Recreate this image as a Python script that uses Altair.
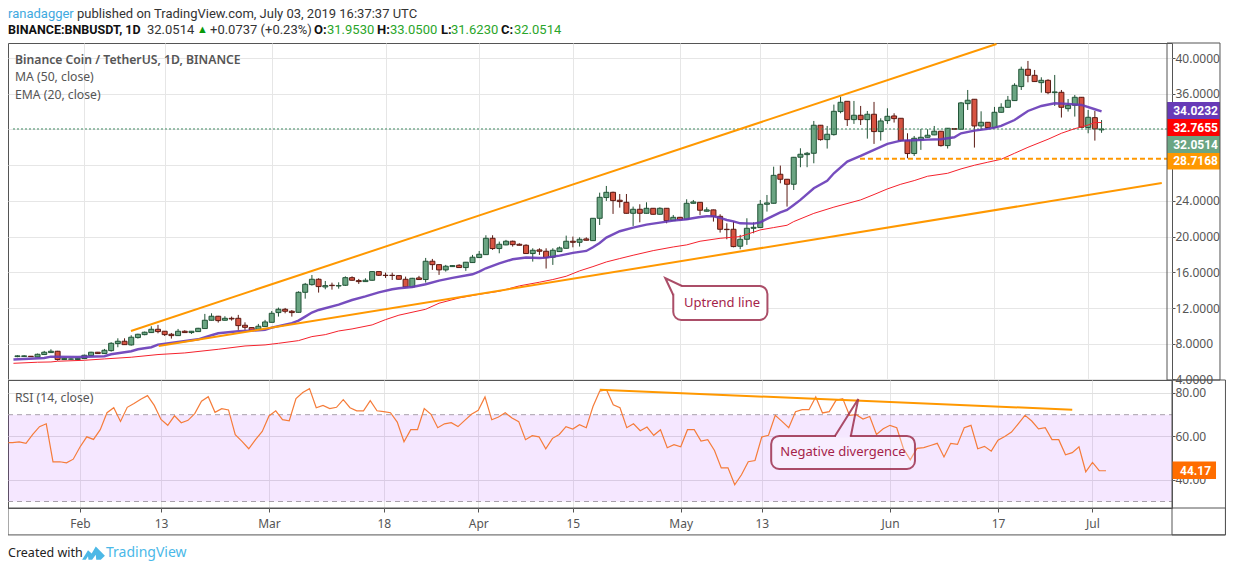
import altair as alt
import pandas as pd

# Daily candles, first session 2019-01-22
opens = [6.56,6.58,6.60,6.52,6.79,7.01,7.16,6.23,6.27,6.23,
6.34,6.67,7.05,6.90,7.23,8.02,8.28,7.87,8.69,9.02,9.25,9.62,9.40,9.06,8.91,9.40,9.25,9.36,9.70,10.63,
11.08,10.63,10.85,10.85,10.07,9.81,9.62,9.92,10.40,11.49,11.86,11.64,11.52,13.76,14.62,15.22,14.36,14.55,14.47,14.55,
15.40,15.07,14.96,15.11,16.08,15.67,15.67,15.63,15.22,14.36,15.37,15.19,17.24,16.86,16.27,16.64,16.79,16.53,17.09,17.65,
17.98,19.81,18.66,19.07,19.48,19.14,19.03,18.10,18.51,18.36,17.69,18.32,18.69,19.48,19.36,19.74,19.55,22.05,24.37,24.96,
24.07,23.84,22.61,23.06,22.61,23.17,22.50,23.17,21.79,22.16,21.94,23.73,23.84,22.84,22.99,22.27,20.82,20.82,18.92,19.70,
20.93,21.01,23.62,23.73,26.98,26.42,25.86,28.89,29.18,29.33,32.47,30.86,31.42,34.00,35.15,33.10,33.59,33.10,33.70,31.76,
32.99,33.51,33.25,30.75,29.30,30.86,31.12,31.39,31.80,30.19,32.09,32.02,34.89,35.38,32.39,32.80,32.21,33.92,34.48,35.23,
36.80,38.74,38.06,37.24,37.50,36.12,36.16,34.33,34.71,35.60,32.21,33.32,31.953]
highs = [6.71,6.72,6.62,6.90,7.20,7.38,7.20,6.40,6.36,6.40,
6.78,7.10,7.08,7.42,8.17,8.61,8.61,8.95,9.12,9.36,9.96,10.11,9.42,9.21,9.66,9.51,9.43,9.78,11.34,11.41,
11.12,11.08,11.04,11.23,10.40,9.84,10.22,10.67,11.67,12.05,12.01,11.78,13.87,14.81,15.70,15.33,15.03,14.84,14.88,15.55,
15.55,15.26,15.33,16.12,16.10,15.96,15.96,15.70,15.52,15.38,15.60,17.61,17.50,16.90,16.83,16.78,16.90,17.16,17.95,18.39,
20.15,20.15,19.44,19.63,19.55,19.25,19.14,18.69,18.69,18.69,18.69,18.88,20.11,20.00,19.92,19.92,22.08,24.92,25.67,25.03,
24.77,24.77,23.36,23.62,23.84,23.20,23.28,23.20,22.42,22.20,24.18,24.10,23.86,23.28,23.02,22.50,21.49,21.68,20.19,22.05,
21.60,24.10,24.66,27.83,27.95,26.45,28.92,29.89,29.48,32.95,32.50,32.39,34.78,35.68,35.18,35.19,34.63,34.07,35.08,33.25,
34.37,33.81,33.28,31.57,31.27,32.06,32.02,32.39,31.83,32.16,32.13,35.08,36.42,35.40,34.03,32.83,34.52,34.93,35.75,37.17,
39.03,39.67,38.66,37.84,37.62,38.10,36.42,35.41,35.86,35.63,34.18,34.07,33.05]
lows = [6.49,6.52,6.54,6.50,6.75,7.00,6.11,6.20,6.22,6.20,
6.30,6.62,6.88,6.86,7.12,7.61,7.87,7.79,8.58,8.95,9.22,9.17,8.87,8.58,8.88,9.22,9.10,9.32,9.68,10.60,
10.37,10.60,10.59,9.55,9.55,9.44,9.58,9.90,10.38,11.04,11.41,11.04,11.49,13.05,14.51,13.73,14.10,14.06,14.17,14.47,
15.07,14.70,14.92,15.07,15.59,15.37,15.14,15.18,14.33,14.30,15.15,14.85,16.27,15.71,16.08,16.62,16.50,16.16,17.05,17.62,
17.95,18.51,18.13,19.03,18.88,19.00,18.06,17.20,17.95,16.42,16.83,18.28,18.65,18.80,18.88,19.55,19.52,21.30,23.99,22.54,
23.24,22.58,21.19,21.60,22.58,22.46,22.46,21.49,21.75,21.79,21.90,23.69,22.42,22.80,21.68,20.45,19.70,18.80,18.58,19.07,
20.37,21.00,22.80,23.70,25.97,23.36,25.22,27.77,27.77,28.21,30.75,29.86,31.31,33.81,32.39,32.62,32.50,30.97,30.38,30.75,
32.62,32.77,30.64,28.77,29.03,29.71,31.08,31.35,30.08,29.86,31.98,31.98,34.18,29.97,31.94,32.18,32.18,33.88,34.44,35.19,
36.42,37.28,37.32,36.12,35.94,34.63,33.33,34.00,33.44,32.20,31.57,30.75,31.623]
closes = [6.64,6.64,6.56,6.82,7.05,7.16,6.23,6.37,6.30,6.37,
6.71,7.05,6.90,7.27,8.05,8.28,7.90,8.73,9.06,9.29,9.62,9.36,9.02,8.91,9.40,9.25,9.40,9.73,10.63,11.08,
10.59,10.85,10.78,10.03,9.84,9.47,9.96,10.44,11.41,11.86,11.64,11.49,13.76,14.66,15.22,14.40,14.51,14.51,14.51,15.40,
15.11,14.96,15.11,16.08,15.67,15.64,15.64,15.22,14.36,15.33,15.19,17.24,16.86,16.27,16.68,16.75,16.53,17.13,17.69,18.02,
19.81,18.66,19.14,19.48,19.10,19.03,18.10,18.47,18.36,17.65,18.47,18.73,19.48,19.36,19.70,19.59,22.05,24.40,24.96,24.03,
23.92,22.61,23.06,22.61,23.17,22.50,23.17,21.79,22.16,21.90,23.73,23.88,22.95,22.99,22.27,20.82,20.78,18.88,19.70,20.93,
21.04,23.62,23.77,26.86,26.42,25.86,28.88,29.22,29.33,32.47,30.86,31.46,34.03,35.04,33.10,33.59,33.10,33.70,31.76,32.95,
33.47,33.21,30.75,29.30,31.01,31.12,31.35,31.80,30.19,32.13,32.02,34.97,35.27,32.39,32.80,32.21,33.92,34.48,35.27,36.94,
38.74,38.06,37.36,37.50,36.12,36.20,34.48,34.71,35.60,32.24,33.36,32.06,32.0514]

# Moving averages, read at the days listed (offset from 1 Feb)
ema_days = [-10.6,-6,-5,-1,3,4,7,8,10,11,14,17,19,20,23,26,27,28,31,32,33,34,35,38,40,42,44,46,47,49,51,53,55,58,59,60,62,64,66,68,69,71,73,75,76,77,78,80,82,84,86,88,90,92,93,94,95,96,97,98,100,101,102,104,105,106,107,109,111,112,114,116,118,120,122,124,126,128,130,131,133,135,136,137,139,141,143,145,147,149,151,152]
ema_vals = [6.23,6.41,6.56,6.52,6.60,6.82,7.16,7.38,7.61,7.90,8.20,8.50,8.95,9.17,9.40,9.51,9.55,9.81,10.30,10.59,11.04,11.49,11.78,12.38,12.90,13.31,13.76,14.10,14.21,14.36,14.66,15.07,15.37,15.78,16.08,16.45,17.01,17.46,17.65,17.61,17.65,17.87,18.17,18.39,18.80,19.29,19.89,20.60,21.01,21.34,21.57,21.79,21.94,22.20,22.27,22.27,22.09,21.86,21.71,21.49,21.45,21.60,21.98,22.72,22.98,23.54,24.11,25.41,26.24,27.09,28.40,29.03,29.71,30.38,30.75,30.79,30.86,30.90,31.12,31.57,31.87,32.06,32.21,32.39,33.06,34.07,34.63,34.93,34.86,34.74,34.26,34.02]
ma_days = [-10.6,-7,-5,-4,0,3,7,11,15,20,24,27,29,32,34,36,38,40,43,45,47,51,53,56,59,62,65,68,70,72,74,76,78,80,82,85,88,90,92,95,98,101,103,105,106,109,112,116,118,120,122,124,126,129,131,133,135,137,139,141,144,146,148,149,150,151,152]
ma_vals = [5.81,5.93,5.96,6.04,6.15,6.30,6.49,6.79,6.97,7.38,7.75,7.87,8.05,8.35,8.80,9.02,9.43,9.66,10.11,10.70,11.20,11.86,12.54,13.13,13.54,13.88,14.48,14.89,15.19,15.56,16.16,16.64,17.16,17.54,17.91,18.43,18.84,19.07,19.48,19.81,20.00,20.75,21.01,21.27,21.68,22.60,23.30,24.11,24.71,25.34,25.86,26.27,26.76,27.09,27.58,27.99,28.33,28.66,29.33,30.00,30.90,31.57,32.09,32.28,32.50,32.77,32.77]

# RSI (14, close), one value per day from the left edge
rsi_vals = [57.1,57.1,57.5,56.8,60.9,64.5,65.8,48.3,48.3,47.8,49.5,
55.1,59.8,58.6,63.1,70.9,73.2,66.9,73.4,75.2,77.1,78.8,74.3,67.8,65.1,69.5,66.3,67.4,70.5,76.2,78.3,
71.1,72.8,72.2,60.8,57.7,54.3,58.5,62.3,69.4,71.8,67.7,67.2,77.4,80.2,82.0,73.2,74.3,72.8,73.4,76.9,
73.2,71.8,71.8,76.5,71.8,71.4,70.9,66.6,57.5,63.1,63.1,72.8,70.2,64.0,65.8,66.3,64.5,67.4,70.2,72.0,
78.2,67.7,68.9,70.9,68.5,66.8,58.5,60.3,59.8,54.3,59.1,60.9,64.5,63.4,65.4,64.0,73.8,80.9,81.5,74.6,
73.2,64.0,65.8,62.6,64.3,60.5,63.1,54.8,56.2,55.2,63.1,63.1,57.8,58.5,53.5,45.5,45.5,37.7,42.3,48.3,
48.9,59.7,60.5,69.7,66.9,64.0,71.4,72.3,72.3,78.2,70.8,71.4,76.6,77.4,69.7,70.0,68.0,69.2,60.9,63.5,
65.1,64.0,54.3,49.2,54.5,54.8,55.8,56.8,50.5,56.8,56.3,64.0,65.1,54.3,55.4,53.2,58.2,60.0,62.0,65.8,
69.7,67.1,63.5,64.0,58.5,58.5,51.5,52.5,55.2,43.7,48.0,44.2,44.17]

price_ticks = [4,8,12,16,20,24,28,32,36,40]
rsi_ticks = [40,60,80]
tick_days = [0,12,28,45,59,73,89,101,120,136,150]
tag_labels = ["34.0232","32.7655","32.0514","28.7168"]
tag_edges = [35.07,33.17,31.26,29.36,27.51]
tag_colors = ["#673ab7","#ff0000","#6ba583","#ff9800"]

FONT = "Noto Sans"
HEAD = "Roboto"
GREY = "#555555"
FRAME = "#555555"
base = pd.Timestamp("2019-02-01")

def dt(d):
    return (base + pd.Timedelta(days=float(d))).strftime("%Y-%m-%dT%H:%M:%SZ")

x_left, x_right, x_outer = -10.667, 161.78, 169.70
p_top, p_bot = 41.68, 3.94
r_top, r_bot, r_outer = 85.99, 27.0, 14.6
W, H1, H2 = 1164, 337, 128
xs = alt.Scale(type="utc", domain=[dt(x_left), dt(x_right)])
ys = alt.Scale(domain=[p_bot, p_top])
yr = alt.Scale(domain=[r_bot, r_top])
axis_y_top = alt.Axis(orient="right", values=price_ticks, format=".4f", grid=True, gridColor="#e6e6e6",
                      domain=False, title=None, tickColor=GREY, tickSize=3, labelColor=GREY, labelFont=FONT,
                      labelFontSize=12, labelPadding=0, labelOverlap=False, labelFlush=False, labelBound=False,
                      labelExpr="datum.value == 28 || datum.value == 32 ? '' : datum.label")
axis_y_bot = alt.Axis(orient="right", values=rsi_ticks, format=".2f", grid=True, gridColor="#e0e0e0", domain=False,
                      title=None, tickColor=GREY, tickSize=3, labelColor=GREY, labelFont=FONT, labelFontSize=12,
                      labelPadding=0, labelOverlap=False)
X = alt.X("t:T", scale=xs, title=None)
X2 = alt.X2("t2:T")
Y = alt.Y("v:Q", scale=ys, axis=axis_y_top)
R = alt.Y("v:Q", scale=yr, axis=axis_y_bot)

def series(days, vals):
    return pd.DataFrame({"t": [dt(d) for d in days], "v": vals})

def line(days, vals, yenc, **kw):
    return alt.Chart(series(days, vals)).mark_line(**kw).encode(x=X, y=yenc, order=alt.Order("t:T"))

def text(s, x, y, **kw):
    kw.setdefault("align", "left")
    kw.setdefault("baseline", "middle")
    kw.setdefault("font", FONT)
    return alt.Chart(pd.DataFrame({"s": [s]})).mark_text(**kw).encode(
        x=alt.value(x), y=alt.value(y), text="s:N")

def seg(d1, d2, v1, v2, yenc, color=FRAME, **kw):
    df = pd.DataFrame({"t": [dt(d1)], "t2": [dt(d2)], "v": [v1], "v2": [v2]})
    kw.setdefault("strokeWidth", 1)
    c = alt.Chart(df).mark_rule(color=color, **kw)
    enc = {"x": X, "y": yenc}
    if d1 != d2:
        enc["x2"] = X2
    if v1 != v2:
        enc["y2"] = alt.Y2("v2:Q")
    return c.encode(**enc)

BORDER = "#9c2f4d"

def pointer(tip, b1, b2, yenc):
    p = pd.DataFrame({"i": [0, 1, 2], "t": [dt(b1[0]), dt(tip[0]), dt(b2[0])], "v": [b1[1], tip[1], b2[1]]})
    return alt.Chart(p).mark_line(color=BORDER, strokeWidth=2, opacity=0.85).encode(x=X, y=yenc, order="i:Q")

def box(b, yenc, **kw):
    d1, d2, v1, v2 = b
    df = pd.DataFrame({"t": [dt(d1)], "t2": [dt(d2)], "v": [v1], "v2": [v2]})
    return alt.Chart(df).mark_rect(**kw).encode(x=X, x2=X2, y=yenc, y2="v2:Q")

# ---------------- price pane ----------------
days = list(range(-10, 153))
candles = pd.DataFrame({
    "t": [dt(d) for d in days], "o": opens, "h": highs, "l": lows, "c": closes,
    "dir": ["up" if c >= o else "down" for o, c in zip(opens, closes)],
})
body_stroke = alt.Scale(domain=["up", "down"], range=["#225437", "#5b1a13"])
body_fill = alt.Scale(domain=["up", "down"], range=["#6ba583", "#d75442"])

axis_x_top = alt.Axis(values=[dt(d) for d in tick_days], grid=True, gridColor="#e6e6e6", labels=False,
                      ticks=False, domain=False, title=None)
wicks = alt.Chart(candles).mark_rule(strokeWidth=1).encode(
    x=alt.X("t:T", scale=xs, axis=axis_x_top),
    y=alt.Y("l:Q", scale=ys, axis=axis_y_top),
    y2="h:Q",
    color=alt.Color("dir:N", scale=body_stroke, legend=None),
)
bodies = alt.Chart(candles).mark_bar(size=5, strokeWidth=1).encode(
    x=X, y=alt.Y("o:Q", scale=ys, axis=axis_y_top), y2="c:Q",
    fill=alt.Fill("dir:N", scale=body_fill, legend=None),
    stroke=alt.Stroke("dir:N", scale=body_stroke, legend=None),
)
last_line = seg(x_left, x_right, 32.0514, 32.0514, Y, color="#3f8a63", strokeDash=[2, 2])
ema = line(ema_days, ema_vals, Y, color="#673ab7", strokeWidth=2.4, opacity=0.9)
ma = line(ma_days, ma_vals, Y, color="#f5222d", strokeWidth=1)
upper = line([6.96, 136.3], [9.43, 41.57], Y, color="#ff9800", strokeWidth=2)
lower = line([11.1, 161], [7.75, 26.0], Y, color="#ff9800", strokeWidth=2)
support = seg(115.9, x_right, 28.7168, 28.7168, Y, color="#ff9800", strokeWidth=2, strokeDash=[5, 3])

tags_df = pd.DataFrame({
    "t": [dt(x_right)] * 4, "t2": [dt(x_outer)] * 4,
    "v": tag_edges[:-1], "v2": tag_edges[1:], "col": tag_colors,
    "lab": tag_labels, "mid": [(a + b) / 2 for a, b in zip(tag_edges[:-1], tag_edges[1:])],
    "tt": [dt(162.7)] * 4,
})
tag_rects = alt.Chart(tags_df).mark_rect().encode(
    x=X, x2=X2, y=Y, y2="v2:Q", color=alt.Color("col:N", scale=None))
tag_text = alt.Chart(tags_df).mark_text(align="left", color="white", fontWeight="bold", font=HEAD, fontSize=12).encode(
    x=alt.X("tt:T", scale=xs, title=None), y=alt.Y("mid:Q", scale=ys, axis=axis_y_top), text="lab:N")

ox, oy = 8, 43
def T(s, x, y, **kw):
    kw.setdefault("font", HEAD)
    kw.setdefault("fontSize", 13)
    return text(s, x - ox, y - oy, **kw)

header = [
    T("ranadagger", 8, 14, color="#3fa9e0"),
    T("published on TradingView.com, July 03, 2019 16:37:37 UTC", 77, 14, color="#333333"),
    T("BINANCE:BNBUSDT, 1D", 8, 30, color="#111111", fontWeight="bold", fontSize=12.5),
    T("32.0514", 147, 30, color="#333333"),
    T("\u25B2", 197, 30, color="#0a9a0a", fontSize=11),
    T("+0.0737 (+0.23%)", 210, 30, color="#333333"),
    T("O:", 314, 30, color="#111111", fontWeight="bold"),
    T("31.9530", 327, 30, color="#2aa52a"),
    T("H:", 377, 30, color="#111111", fontWeight="bold"),
    T("33.0500", 390, 30, color="#2aa52a"),
    T("L:", 441, 30, color="#111111", fontWeight="bold"),
    T("31.6230", 451, 30, color="#2aa52a"),
    T("C:", 501, 30, color="#111111", fontWeight="bold"),
    T("32.0514", 514, 30, color="#2aa52a"),
    T("Binance Coin / TetherUS, 1D, BINANCE", 15, 60, color=GREY, font=FONT, fontSize=12.2, fontWeight=600),
    T("MA (50, close)", 15, 77, color=GREY, font=FONT, fontSize=12.2),
    T("EMA (20, close)", 15, 95, color=GREY, font=FONT, fontSize=12.2),
]
# Uptrend callout
up_box = box((88.0, 102.07, 14.47, 10.66), Y, cornerRadius=8, fill="#ffffff", stroke=BORDER, strokeWidth=2, strokeOpacity=0.85)
up_cover = alt.Chart(pd.DataFrame({
    "t": [dt(86.8), dt(88.0), dt(89.3)], "v": [15.36, 14.93, 14.47], "v2": [15.36, 13.46, 14.47]
})).mark_area(color="#ffffff").encode(x=X, y=Y, y2="v2:Q")
up_ptr = pointer((86.8, 15.36), (89.3, 14.47), (88.0, 13.46), Y)
up_text = text("Uptrend line", 722 - ox, 303 - oy, color="#a5234a", fontSize=13, align="center")

frame_top = [box((x_right, x_outer, p_top, p_bot), Y, fillOpacity=0, fill="#ffffff", stroke=FRAME, strokeWidth=1)]
top = alt.layer(wicks, bodies, last_line, ma, ema, upper, lower, support, up_box, up_cover, up_ptr, up_text,
                tag_rects, tag_text, *frame_top, *header).properties(width=W, height=H1)

# ---------------- RSI pane ----------------
axis_x_bot = alt.Axis(values=[dt(d) for d in tick_days], grid=True, gridColor="#e6e6e6", domain=False, title=None,
                      tickColor=GREY, tickSize=4, labelColor=GREY, labelFont=FONT, labelFontSize=12, labelPadding=6,
                      labelExpr="utcdate(datum.value) == 1 ? utcFormat(datum.value, '%b') : utcFormat(datum.value, '%-d')")
rsi_days = [-10.6] + list(range(-10, 153))
rsi_df = series(rsi_days, rsi_vals)
band_df = pd.DataFrame({"t": [dt(x_left)], "t2": [dt(x_right)], "v": [30], "v2": [70]})
band = alt.Chart(band_df).mark_rect(color="#9915ff", opacity=0.1).encode(
    x=alt.X("t:T", scale=xs, axis=axis_x_bot), x2=X2,
    y=alt.Y("v:Q", scale=yr, axis=axis_y_bot), y2="v2:Q")
l70 = seg(x_left, x_right, 70, 70, R, color="#a8a0ac", strokeDash=[5, 4])
l30 = seg(x_left, x_right, 30, 30, R, color="#a8a0ac", strokeDash=[5, 4])
rsi = alt.Chart(rsi_df).mark_line(color="#f57c3a", strokeWidth=1.2).encode(x=X, y=R, order=alt.Order("t:T"))
div_line = line([77, 147], [81.5, 72.3], R, color="#ff9800", strokeWidth=2)
neg_box = box((102.4, 123.7, 60.2, 45.0), R, cornerRadius=8, fill="#ffffff", fillOpacity=0.3,
              stroke=BORDER, strokeWidth=2, strokeOpacity=0.85)
neg_gap = box((112.0, 114.05, 60.9, 59.5), R, fill="#f5e8ff")
neg_ptr = pointer((115.3, 77.2), (111.85, 60.2), (114.2, 60.2), R)
oy2 = 380
neg_text = text("Negative divergence", 843 - ox, 452 - oy2, color="#a5234a", fontSize=13, align="center")
rsi_tag_df = pd.DataFrame({"t": [dt(x_right)], "t2": [dt(168.3)], "v": [48.4], "v2": [40.4]})
rsi_tag = alt.Chart(rsi_tag_df).mark_rect(color="#ff6d00").encode(x=X, x2=X2, y=R, y2="v2:Q")
logo = alt.Chart(pd.DataFrame({"a": [0]})).mark_point(
    shape="M-.5,.3L-.24,-.12L-.08,.02L.1,-.28L.5,.12L.32,.3L.12,.3L.1,.08L-.06,.3L-.22,.3L-.24,.14L-.34,.3Z",
    size=2080, filled=True, fill="#4cb8e6", opacity=1
).encode(x=alt.value(93.5 - ox), y=alt.value(553 - oy2))
footer = [
    text("44.17", 1180 - ox, 470.5 - oy2, color="white", fontWeight="bold", font=HEAD, fontSize=12),
    text("RSI (14, close)", 15 - ox, 398 - oy2, color=GREY, fontSize=12.2),
    text("Created with", 8 - ox, 553 - oy2, color="#222222", fontSize=12.5),
    logo,
    text("TradingView", 106 - ox, 553 - oy2, color="#4ab8e8", fontSize=14),
]
frame_bot = [
    box((x_left, x_outer, r_bot, r_outer), R, fillOpacity=0, fill="#ffffff", stroke=FRAME, strokeWidth=1),
    box((x_right, x_outer, r_top, r_outer), R, fillOpacity=0, fill="#ffffff", stroke=FRAME, strokeWidth=1),
]
bottom = alt.layer(band, l70, l30, rsi, div_line, neg_box, neg_gap, neg_ptr, neg_text, rsi_tag,
                   *frame_bot, *footer).properties(width=W, height=H2)

chart = alt.vconcat(top, bottom, spacing=0, bounds="flush").properties(
    padding={"left": -3, "top": -1, "right": -1, "bottom": 0},
).resolve_scale(color="independent", fill="independent", stroke="independent").configure_view(stroke=FRAME, strokeWidth=1)

chart.save("out.html", embed_options={"renderer": "svg", "actions": False})
